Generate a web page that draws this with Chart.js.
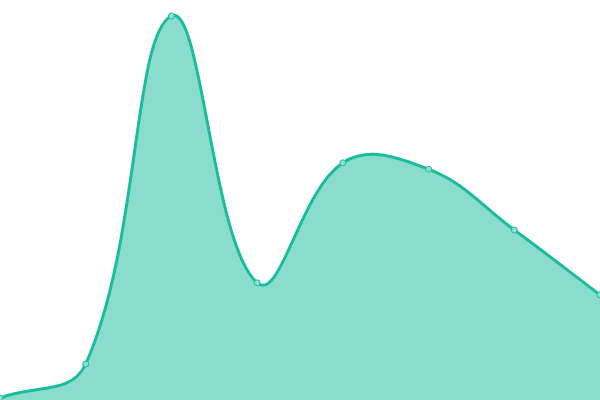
<!DOCTYPE html>
<html>
<head>
<meta charset="utf-8">
<script src="https://cdn.jsdelivr.net/npm/chart.js@4"></script>
<style>
  html, body { margin: 0; padding: 0; background: #fff; }
  #wrap { width: 600px; height: 400px; }
</style>
</head>
<body>
<div id="wrap"><canvas id="areaChart"></canvas></div>
<script>
const labels = ['A', 'B', 'C', 'D', 'E', 'F', 'G', 'H'];
const values = [0.5, 9, 96, 29.3, 59.3, 57.7, 42.5, 26.3];
const yMin = 0;
const yMax = 100;

const ctx = document.getElementById('areaChart').getContext('2d');

new Chart(ctx, {
    type: 'line',
    data: {
        labels: labels,
        datasets: [{
            data: values,
            fill: true,
            tension: 0.4,
            borderColor: '#1abc9c',
            borderWidth: 3,
            backgroundColor: 'rgba(26, 188, 156, 0.51)',
            pointRadius: 3,
            pointBorderWidth: 1,
            pointBackgroundColor: '#8ddece',
            pointBorderColor: '#1abc9c'
        }]
    },
    options: {
        responsive: true,
        maintainAspectRatio: false,
        animation: false,
        layout: { padding: 0, autoPadding: false },
        plugins: {
            legend: { display: false },
            tooltip: { enabled: false }
        },
        scales: {
            x: { display: false, offset: false },
            y: { display: false, min: yMin, max: yMax }
        }
    }
});
</script>
</body>
</html>
